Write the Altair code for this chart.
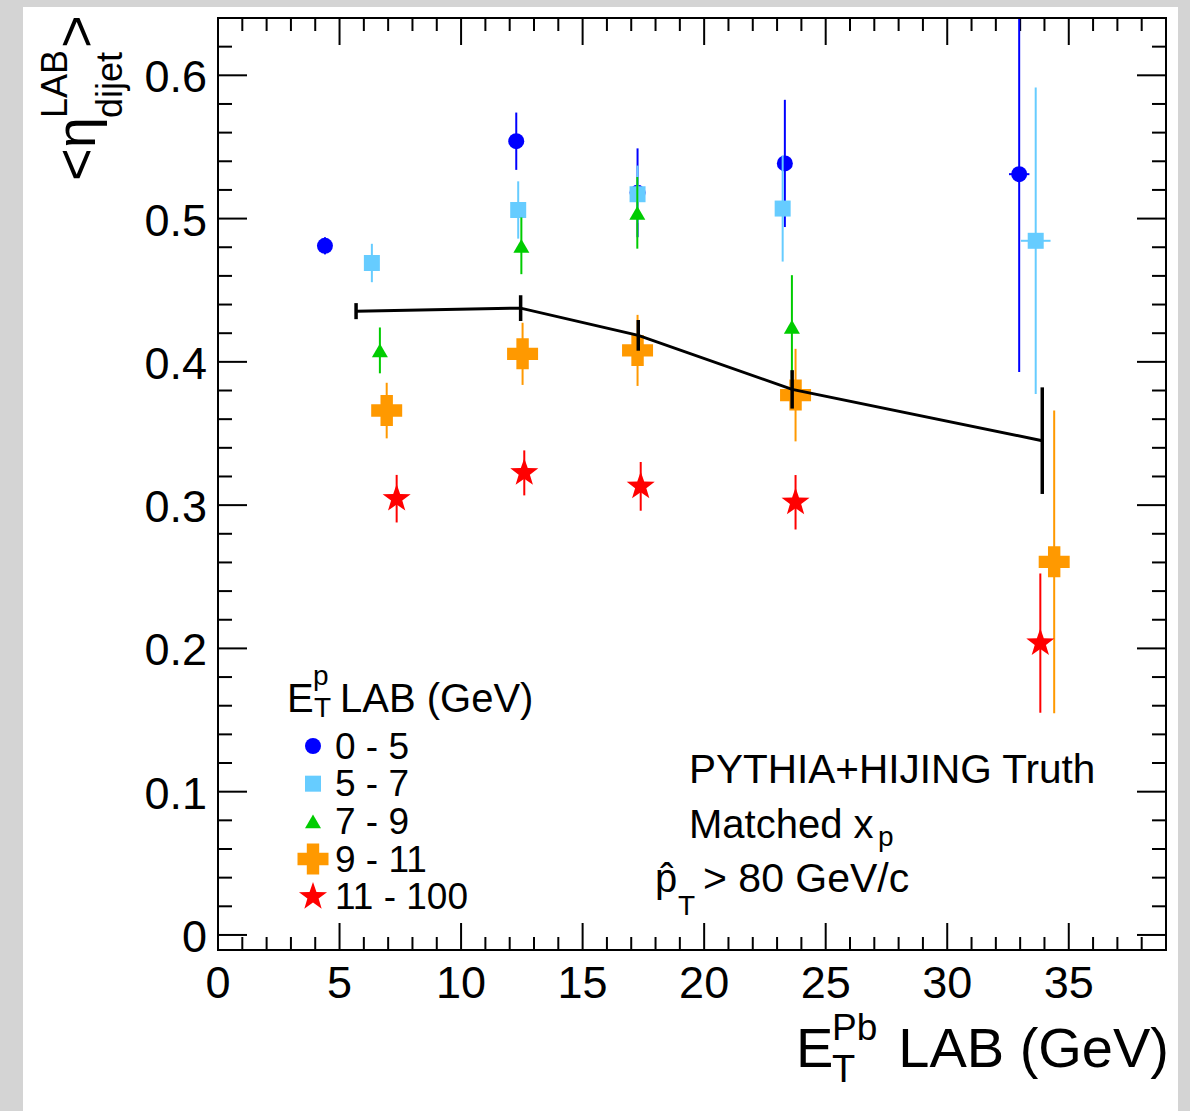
import math
import altair as alt
import pandas as pd

# ---------------- data ----------------
blue_x = [4.40, 12.27, 17.26, 23.32, 32.96]
blue_y = [0.481, 0.554, 0.518, 0.5385, 0.531]
blue_yerr = [0.006, 0.020, 0.031, 0.0444, 0.138]
blue_xerr = [0.0, 0.0, 0.0, 0.0, 0.42]

lblue_x = [6.33, 12.35, 17.26, 23.23, 33.64]
lblue_y = [0.469, 0.506, 0.517, 0.507, 0.4845]
lblue_yerr = [0.0134, 0.020, 0.020, 0.037, 0.107]
lblue_xerr = [0.0, 0.0, 0.0, 0.0, 0.61]

green_x = [6.66, 12.48, 17.25, 23.61]
green_y = [0.408, 0.481, 0.504, 0.4245]
green_yerr = [0.016, 0.0198, 0.025, 0.036]
green_xerr = [0.0, 0.0, 0.0, 0.0]

orange_x = [6.94, 12.53, 17.26, 23.76, 34.40]
orange_y = [0.366, 0.4056, 0.408, 0.3768, 0.2604]
orange_yerr = [0.0194, 0.0217, 0.0248, 0.0323, 0.1056]
orange_xerr = [0.0, 0.0, 0.0, 0.0, 0.0]

red_x = [7.35, 12.60, 17.39, 23.76, 33.83]
red_y = [0.3045, 0.3225, 0.3131, 0.302, 0.2037]
red_yerr = [0.0166, 0.0157, 0.017, 0.019, 0.0486]
red_xerr = [0.0, 0.0, 0.0, 0.0, 0.0]

black_x = [5.68, 12.45, 17.29, 23.62, 33.91]
black_y = [0.4354, 0.4375, 0.4185, 0.3808, 0.345]
black_yerr = [0.0056, 0.009, 0.0107, 0.0134, 0.0372]

legend_labels = ["0 - 5", "5 - 7", "7 - 9", "9 - 11", "11 - 100"]

x_major = [0, 5, 10, 15, 20, 25, 30, 35]
x_major_labels = ["0", "5", "10", "15", "20", "25", "30", "35"]
x_minor = [i for i in range(1, 40) if i % 5 != 0]
y_major = [0.0, 0.1, 0.2, 0.3, 0.4, 0.5, 0.6]
y_major_labels = ["0", "0.1", "0.2", "0.3", "0.4", "0.5", "0.6"]
y_minor = [round(0.02 * i, 2) for i in range(1, 33) if i % 5 != 0]

# ---------------- styling ----------------
FONT = "Liberation Sans"
W, H = 948, 932
X_DOMAIN = [0, 39]
Y_DOMAIN = [-0.0105, 0.64]

xs = alt.Scale(domain=X_DOMAIN, nice=False, zero=False)
ys = alt.Scale(domain=Y_DOMAIN, nice=False, zero=False)


def star_path(inner=0.4):
    pts = []
    for i in range(10):
        r = 1.0 if i % 2 == 0 else inner
        a = -math.pi / 2 + i * math.pi / 5
        pts.append(f"{r * math.cos(a):.4f},{r * math.sin(a):.4f}")
    return "M" + "L".join(pts) + "Z"


STAR = star_path(0.4)

series = [
    dict(x=blue_x, y=blue_y, yerr=blue_yerr, xerr=blue_xerr, color="#0000ff", shape="circle", size=256),
    dict(x=lblue_x, y=lblue_y, yerr=lblue_yerr, xerr=lblue_xerr, color="#66ccff", shape="square", size=256),
    dict(x=green_x, y=green_y, yerr=green_yerr, xerr=green_xerr, color="#00cc00", shape="triangle-up", size=256),
    dict(x=orange_x, y=orange_y, yerr=orange_yerr, xerr=orange_xerr, color="#ff9900", shape="cross", size=961),
    dict(x=red_x, y=red_y, yerr=red_yerr, xerr=red_xerr, color="#ff0000", shape=STAR, size=870),
]

one = pd.DataFrame({"a": [0]})


def X(field):
    return alt.X(field, type="quantitative", scale=xs, axis=None)


def Y(field):
    return alt.Y(field, type="quantitative", scale=ys, axis=None)


def txt(s, x, y, size, angle=None, align="left"):
    kw = dict(text=s, fontSize=size, font=FONT, color="black", align=align, baseline="alphabetic")
    if angle is not None:
        kw["angle"] = angle
    return alt.Chart(one).mark_text(**kw).encode(x=alt.value(x), y=alt.value(y))


layers = []

# white canvas
layers.append(
    alt.Chart(one).mark_rect(color="white").encode(
        x=alt.value(-195), x2=alt.value(960), y=alt.value(-11), y2=alt.value(1093)
    )
)

# ticks (inside the frame)
xmaj = pd.DataFrame({"v": x_major, "lab": x_major_labels})
xmin = pd.DataFrame({"v": x_minor})
ymaj = pd.DataFrame({"v": y_major, "lab": y_major_labels})
ymin = pd.DataFrame({"v": y_minor})

TW = 2
layers.append(alt.Chart(xmaj).mark_rule(color="black", strokeWidth=TW).encode(
    x=X("v"), y=alt.value(H), y2=alt.value(H - 27)))
layers.append(alt.Chart(xmaj).mark_rule(color="black", strokeWidth=TW).encode(
    x=X("v"), y=alt.value(0), y2=alt.value(27)))
layers.append(alt.Chart(xmin).mark_rule(color="black", strokeWidth=TW).encode(
    x=X("v"), y=alt.value(H), y2=alt.value(H - 13)))
layers.append(alt.Chart(xmin).mark_rule(color="black", strokeWidth=TW).encode(
    x=X("v"), y=alt.value(0), y2=alt.value(13)))
layers.append(alt.Chart(ymaj).mark_rule(color="black", strokeWidth=TW).encode(
    y=Y("v"), x=alt.value(0), x2=alt.value(29)))
layers.append(alt.Chart(ymaj).mark_rule(color="black", strokeWidth=TW).encode(
    y=Y("v"), x=alt.value(W), x2=alt.value(W - 29)))
layers.append(alt.Chart(ymin).mark_rule(color="black", strokeWidth=TW).encode(
    y=Y("v"), x=alt.value(0), x2=alt.value(14)))
layers.append(alt.Chart(ymin).mark_rule(color="black", strokeWidth=TW).encode(
    y=Y("v"), x=alt.value(W), x2=alt.value(W - 14)))

# tick labels (through the scales)
layers.append(alt.Chart(xmaj).mark_text(align="center", baseline="alphabetic", fontSize=45, font=FONT,
                                        color="black").encode(
    x=X("v"), y=alt.value(H + 48), text="lab:N"))
layers.append(alt.Chart(ymaj).mark_text(align="right", baseline="alphabetic", dy=17, fontSize=45, font=FONT,
                                        color="black").encode(
    y=Y("v"), x=alt.value(-11), text="lab:N"))

# data series
for s in series:
    df = pd.DataFrame({"x": s["x"], "y": s["y"], "yerr": s["yerr"], "xerr": s["xerr"]})
    df["ylo"] = df["y"] - df["yerr"]
    df["yhi"] = df["y"] + df["yerr"]
    df["xlo"] = df["x"] - df["xerr"]
    df["xhi"] = df["x"] + df["xerr"]
    layers.append(alt.Chart(df).mark_rule(color=s["color"], strokeWidth=2, clip=True).encode(
        x=X("x"), y=Y("ylo"), y2="yhi:Q"))
    dfx = df[df["xerr"] > 0]
    if len(dfx):
        layers.append(alt.Chart(dfx).mark_rule(color=s["color"], strokeWidth=2, clip=True).encode(
            x=X("xlo"), x2="xhi:Q", y=Y("y")))
    layers.append(alt.Chart(df).mark_point(shape=s["shape"], size=s["size"], filled=True, color=s["color"],
                                           opacity=1, strokeWidth=0).encode(x=X("x"), y=Y("y")))

# black reference curve
bdf = pd.DataFrame({"x": black_x, "y": black_y, "yerr": black_yerr})
bdf["ylo"] = bdf["y"] - bdf["yerr"]
bdf["yhi"] = bdf["y"] + bdf["yerr"]
layers.append(alt.Chart(bdf).mark_line(color="black", strokeWidth=3).encode(x=X("x"), y=Y("y")))
layers.append(alt.Chart(bdf).mark_rule(color="black", strokeWidth=3.5).encode(
    x=X("x"), y=Y("ylo"), y2="yhi:Q"))

# frame
layers.append(alt.Chart(one).mark_rect(filled=False, stroke="black", strokeWidth=2).encode(
    x=alt.value(0), x2=alt.value(W), y=alt.value(0), y2=alt.value(H)))

# axis titles
layers += [
    txt("E", 578, 1049, 56),
    txt("Pb", 614, 1022, 37),
    txt("T", 614, 1064, 38),
    txt("LAB (GeV)", 951, 1049, 56, align="right"),
    txt("<\u03b7", -123, 163, 56, angle=270),
    txt("LAB", -151, 100, 36, angle=270),
    txt("dijet", -96, 100, 36, angle=270),
    txt(">", -123, 30, 56, angle=270),
]

# annotation
layers += [
    txt("PYTHIA+HIJING Truth", 471, 765, 40.5),
    txt("Matched x", 471, 820, 40),
    txt("p", 660, 828, 28),
    txt("p\u0302", 437, 874, 40),
    txt("T", 460, 897, 28),
    txt("> 80 GeV/c", 485, 874, 41),
]

# legend header
layers += [
    txt("E", 69, 694, 40),
    txt("p", 95, 667, 28),
    txt("T", 96, 699, 28),
    txt("LAB (GeV)", 122, 694, 40),
]

main = alt.layer(*layers)

# legend entries (own row scale)
leg_scale = alt.Scale(domain=[0, 4], range=[728, 878.7], nice=False, zero=False)
leg_layers = []
for i, s in enumerate(series):
    leg_layers.append(
        alt.Chart(pd.DataFrame({"row": [i]})).mark_point(
            shape=s["shape"], size=s["size"], filled=True, color=s["color"], opacity=1, strokeWidth=0
        ).encode(x=alt.value(95), y=alt.Y("row:Q", scale=leg_scale, axis=None))
    )
leg_df = pd.DataFrame({"row": list(range(len(legend_labels))), "label": legend_labels})
leg_layers.append(
    alt.Chart(leg_df).mark_text(align="left", baseline="alphabetic", dy=12.5, fontSize=37, font=FONT,
                                color="black").encode(
        x=alt.value(117), y=alt.Y("row:Q", scale=leg_scale, axis=None), text="label:N")
)
legend = alt.layer(*leg_layers)

chart = alt.layer(main, legend).resolve_scale(y="independent").properties(
    width=W, height=H,
    padding={"left": 218, "top": 18, "right": 24, "bottom": 161},
    autosize=alt.AutoSizeParams(type="none"),
    background="#d4d4d4",
).configure_view(stroke=None)

chart.save("out.html", embed_options={"renderer": "svg", "actions": False})
